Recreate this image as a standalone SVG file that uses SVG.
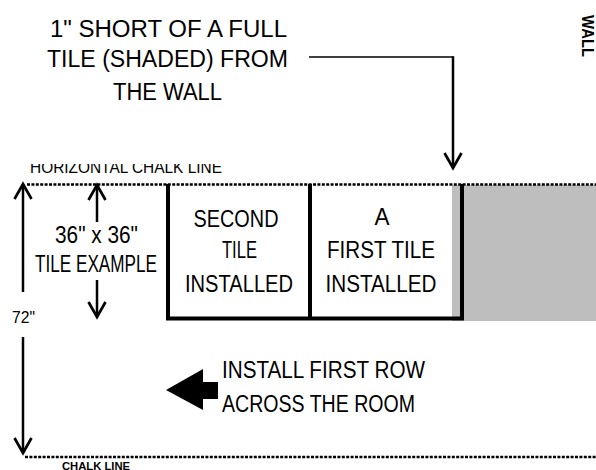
<svg xmlns="http://www.w3.org/2000/svg" width="596" height="470" viewBox="0 0 596 470">
<style>
.t{font-family:"Liberation Sans",Arial,sans-serif;font-size:23px;fill:#000}
.lbl{font-size:23.5px}
.small{font-family:"Liberation Sans",Arial,sans-serif;fill:#000}
.arr{stroke:#000;stroke-width:2.5;fill:none}
.dot{stroke:#000;stroke-width:2.5;stroke-dasharray:3 1.4;fill:none}
.border{stroke:#000;stroke-width:4;fill:none}
</style>
<defs>
<marker id="chev" viewBox="-20 -12 24 24" markerWidth="24" markerHeight="24" refX="0" refY="0" orient="auto" markerUnits="userSpaceOnUse">
<path d="M-15,-8.5 L0,0 L-15,8.5" stroke="#000" stroke-width="2.7" fill="none" stroke-linejoin="miter"/>
</marker>
<clipPath id="topclip"><rect x="0" y="164" width="596" height="20"/></clipPath>
</defs>
<rect width="596" height="470" fill="#fff"/>

<g id="note">
<text class="t lbl" x="50" y="37" textLength="237" lengthAdjust="spacingAndGlyphs">1" SHORT OF A FULL</text>
<text class="t lbl" x="47" y="67" textLength="241" lengthAdjust="spacingAndGlyphs">TILE (SHADED) FROM</text>
<text class="t lbl" x="113" y="100" textLength="109" lengthAdjust="spacingAndGlyphs">THE WALL</text>
</g>

<g id="wall-label">
<text class="small" font-size="16" font-weight="bold" transform="translate(582,15) rotate(90)" textLength="42" lengthAdjust="spacingAndGlyphs">WALL</text>
</g>

<g id="shaded-gap">
<rect x="452" y="185" width="144" height="136" fill="#bebebe"/>
</g>

<g id="tile-second">
<text class="t" x="236" y="227" text-anchor="middle" textLength="85" lengthAdjust="spacingAndGlyphs">SECOND</text>
<text class="t" x="239.5" y="258" text-anchor="middle" textLength="35" lengthAdjust="spacingAndGlyphs">TILE</text>
<text class="t" x="239" y="292" text-anchor="middle" textLength="108" lengthAdjust="spacingAndGlyphs">INSTALLED</text>
</g>

<g id="tile-first">
<text class="t" x="382" y="225" text-anchor="middle" textLength="15" lengthAdjust="spacingAndGlyphs">A</text>
<text class="t" x="381" y="258" text-anchor="middle" textLength="108" lengthAdjust="spacingAndGlyphs">FIRST TILE</text>
<text class="t" x="381" y="292" text-anchor="middle" textLength="111" lengthAdjust="spacingAndGlyphs">INSTALLED</text>
</g>

<g id="tile-borders">
<path class="border" d="M168,184 V318.5 H462 V184 M310,184 V318.5"/>
</g>

<g id="chalk-lines">
<line class="dot" x1="27" y1="184.5" x2="596" y2="184.5"/>
<line class="dot" x1="25" y1="457" x2="596" y2="457"/>
<text class="small" font-size="17" x="30" y="173" textLength="192" lengthAdjust="spacingAndGlyphs" clip-path="url(#topclip)">HORIZONTAL CHALK LINE</text>
<text class="small" font-size="11.5" font-weight="bold" x="62" y="469.5" textLength="68" lengthAdjust="spacingAndGlyphs">CHALK LINE</text>
</g>

<g id="tile-example">
<text class="t" x="96.5" y="243" text-anchor="middle" textLength="83" lengthAdjust="spacingAndGlyphs">36" x 36"</text>
<text class="t" x="96" y="272" text-anchor="middle" textLength="122" lengthAdjust="spacingAndGlyphs">TILE EXAMPLE</text>
</g>

<g id="dim-72">
<text class="small" font-size="17" x="12" y="323" textLength="23" lengthAdjust="spacingAndGlyphs">72"</text>
</g>

<g id="install-note">
<path d="M166,390 L203,369 L203,382 L218,382 L218,399 L203,399 L203,410 Z" fill="#000"/>
<text class="t" x="222" y="378" textLength="203" lengthAdjust="spacingAndGlyphs">INSTALL FIRST ROW</text>
<text class="t" x="222" y="412" textLength="193" lengthAdjust="spacingAndGlyphs">ACROSS THE ROOM</text>
</g>

<g id="connectors">
<path d="M309,57 H453" stroke="#000" stroke-width="1.6" fill="none"/>
<path class="arr" d="M453,56.2 V168" stroke-width="2" marker-end="url(#chev)"/>
<path class="arr" d="M23,292 V184" marker-end="url(#chev)"/>
<path class="arr" d="M23,337 V453" marker-end="url(#chev)"/>
<path class="arr" d="M97,222 V185" marker-end="url(#chev)"/>
<path class="arr" d="M97,280 V317" marker-end="url(#chev)"/>
</g>
</svg>
